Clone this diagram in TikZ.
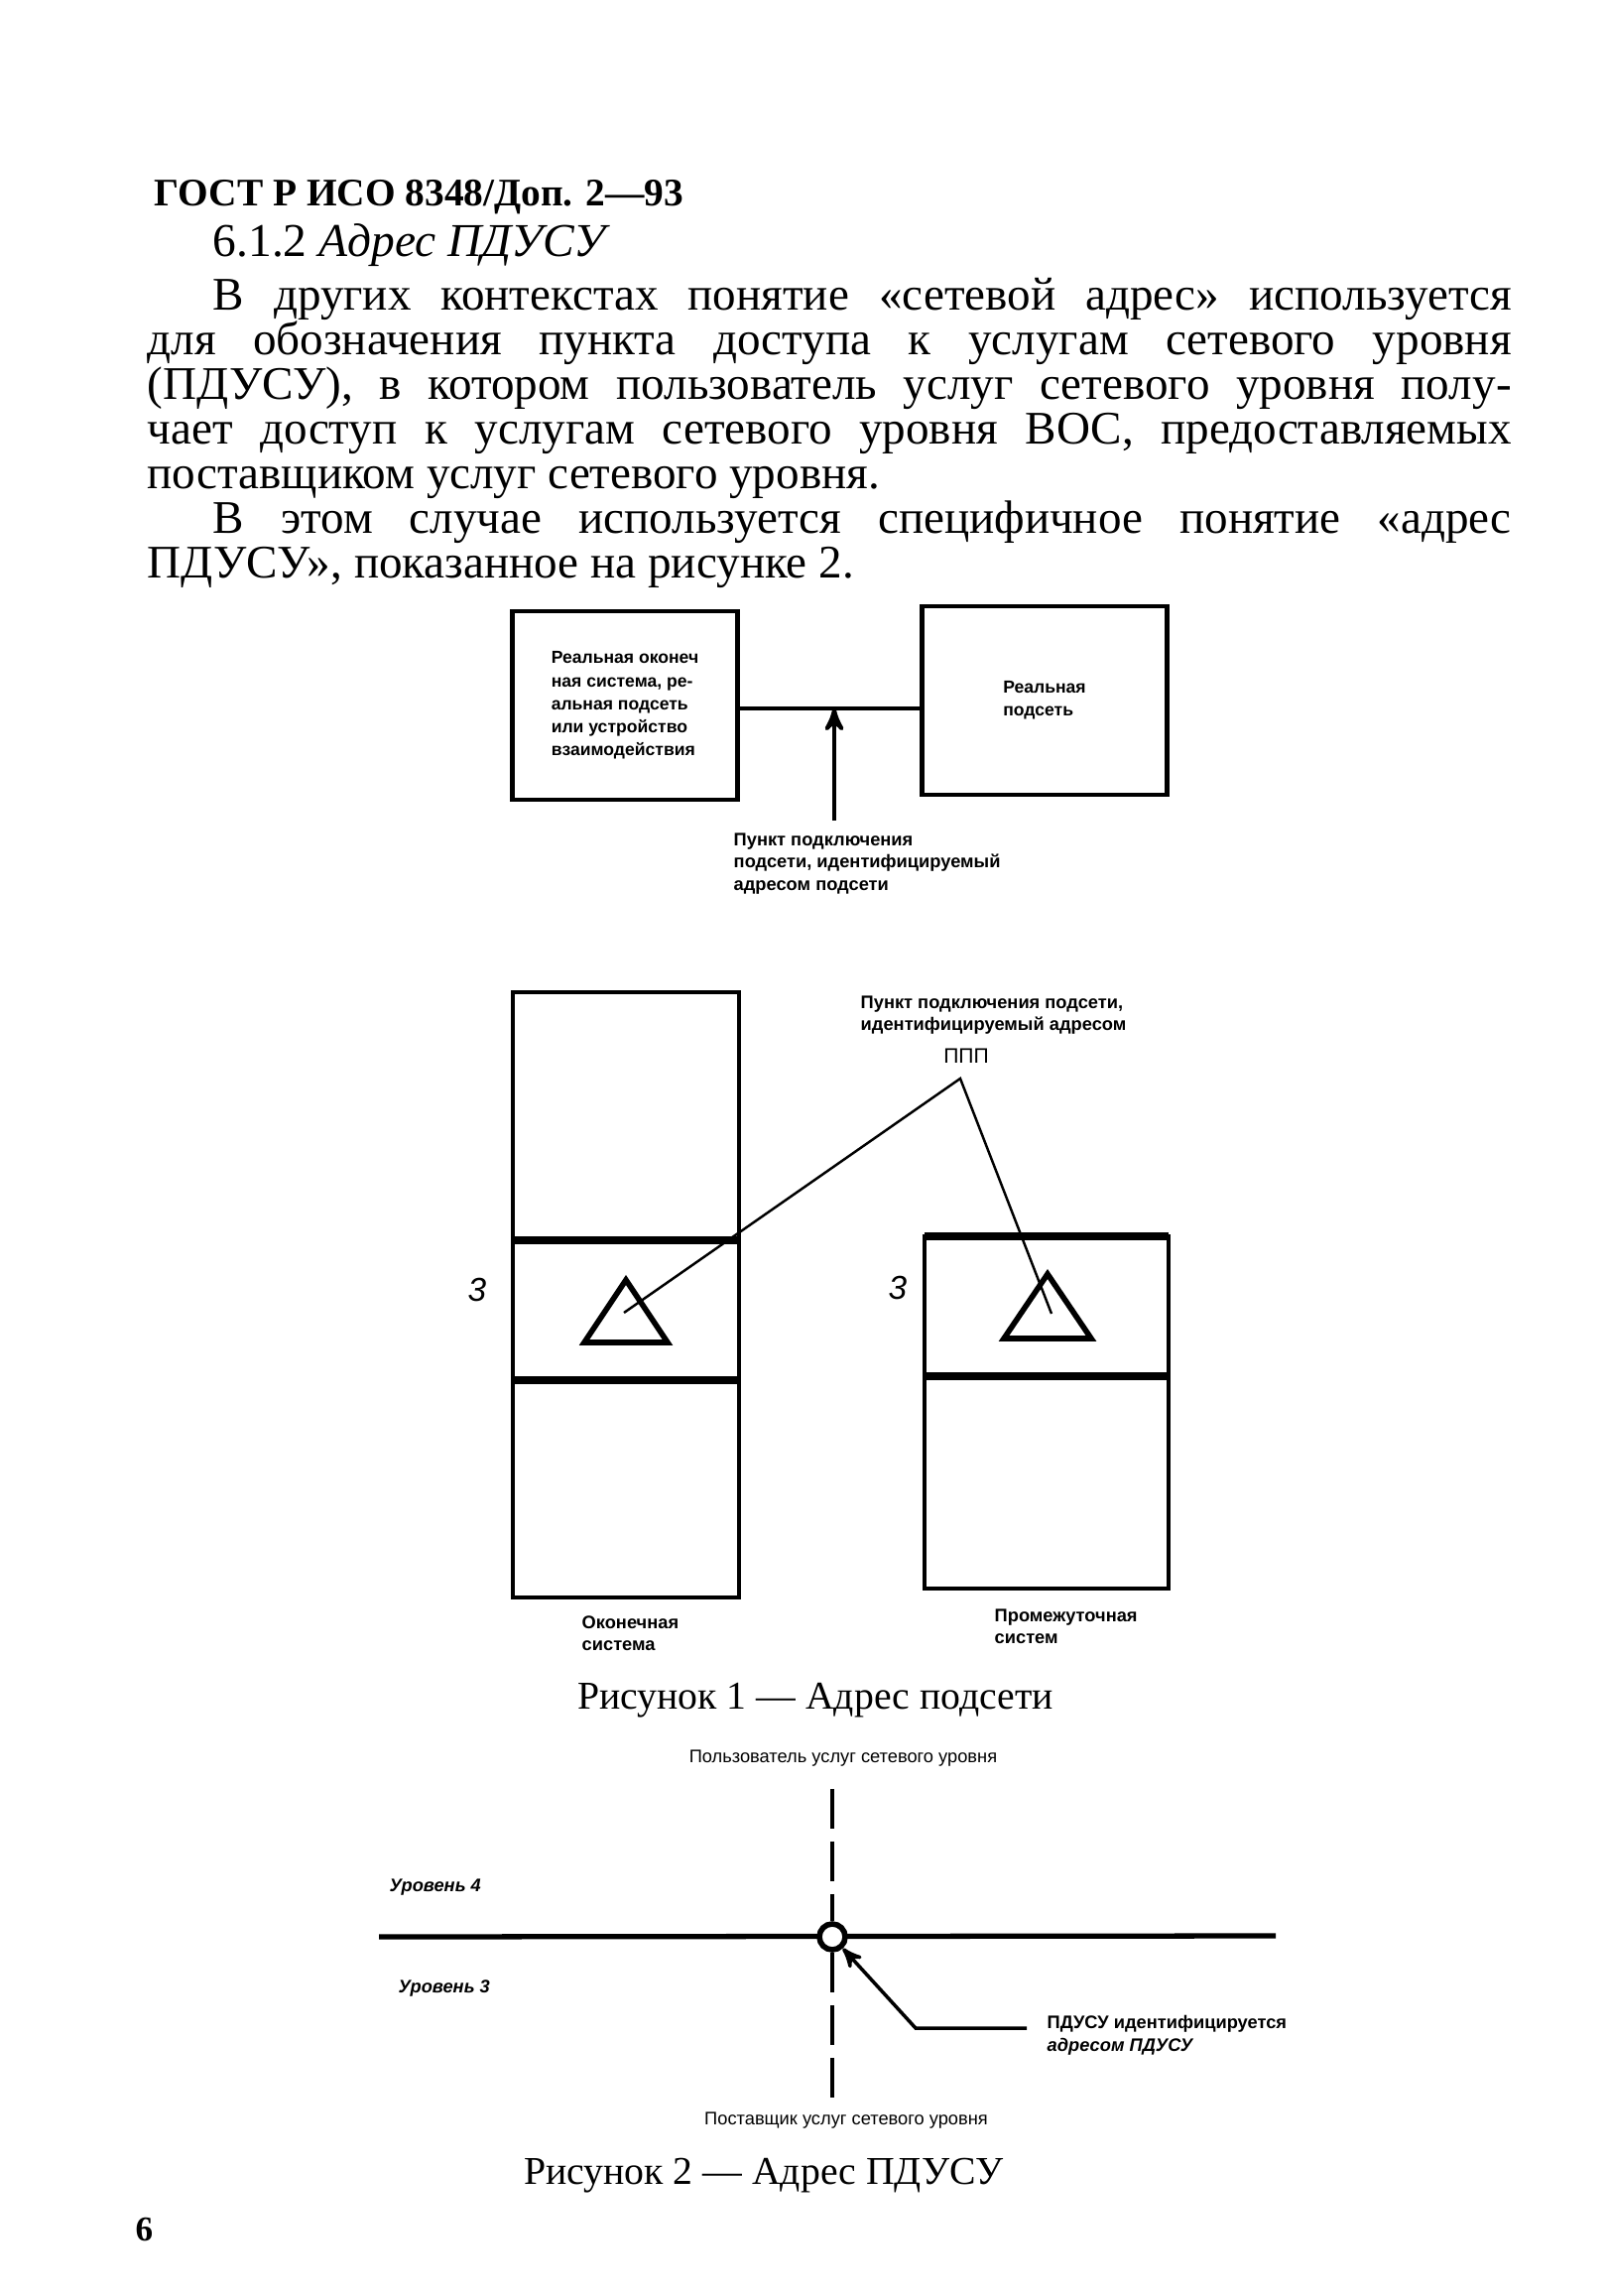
\documentclass[tikz,border=0pt]{standalone}
\usepackage{fontspec}
\setmainfont{Liberation Serif}
\setsansfont{Liberation Sans}
\usepackage{tikz}
\usetikzlibrary{arrows}

\begin{document}
\begin{tikzpicture}[x=0.1mm,y=-0.1mm,>=stealth']
    \tikzstyle{txt}=[inner sep=0pt, anchor=base west]
    \tikzstyle{lbl}=[inner sep=0pt, align=left, font=\sffamily\bfseries\fontsize{5.2}{6.4}\selectfont]
    \tikzstyle{plainlbl}=[inner sep=0pt, font=\sffamily\fontsize{5.2}{6.4}\selectfont]
    \tikzstyle{realbox}=[draw, line width=1.2pt, inner sep=0pt, minimum height=19mm, align=left, font=\sffamily\bfseries\fontsize{5}{6.6}\selectfont]
    \tikzstyle{col}=[line width=1.3pt]
    \tikzstyle{laysep}=[line width=2.4pt]
    \tikzstyle{tri}=[line width=1.6pt, line join=miter]
    \tikzstyle{svcline}=[line width=1.1pt, dash pattern=on 4mm off 1.3mm]
    \tikzstyle{caption}=[inner sep=0pt, font=\fontsize{11.3}{12}\selectfont]
    \tikzstyle{layernum}=[inner sep=0pt, font=\sffamily\itshape\fontsize{9.5}{9.5}\selectfont]

    \useasboundingbox (0,0) rectangle (1620,2314);

    % page text
    \node[txt, font=\bfseries\fontsize{11.2}{12}\selectfont] (hdr) at (155,208) {ГОСТ Р ИСО 8348/Доп. 2—93};
    \node[txt, font=\fontsize{13.5}{14}\selectfont] (sec) at (214,259) {6.1.2 \textit{Адрес ПДУСУ}};
    \node[inner sep=0pt, anchor=north west, align=left, font=\fontsize{13.4}{12.8}\selectfont] (para) at (148,280) {%
      \hspace*{6.6mm}\makebox[130.9mm][s]{В других контекстах понятие «сетевой адрес» используется}\\
      \makebox[137.5mm][s]{для обозначения пункта доступа к услугам сетевого уровня}\\
      \makebox[137.5mm][s]{(ПДУСУ), в котором пользователь услуг сетевого уровня полу-}\\
      \makebox[137.5mm][s]{чает доступ к услугам сетевого уровня ВОС, предоставляемых}\\
      поставщиком услуг сетевого уровня.\\
      \hspace*{6.6mm}\makebox[130.9mm][s]{В этом случае используется специфичное понятие «адрес}\\
      ПДУСУ», показанное на рисунке 2.};

    % figure 1, upper part
    \node[realbox, minimum width=22.7mm] (res) at (630,711) {Реальная оконеч\\ная система, ре-\\альная подсеть\\или устройство\\взаимодействия};
    \node[realbox, minimum width=24.7mm] (rsn) at (1053,706) {Реальная\\подсеть};
    \coordinate (tap) at (841,714);
    \node[lbl, anchor=north west] (sna) at (739,839) {Пункт подключения\\подсети, идентифицируемый\\адресом подсети};
    \draw[line width=1.2pt] (res.east |- tap) -- (rsn.west |- tap);
    \draw[->, line width=1.2pt, shorten <=1.2mm] (tap |- sna.north) -- (tap);

    % figure 1, lower part
    \draw[col] (517,1000) rectangle (745,1610);
    \draw[laysep] (517,1250) -- (745,1250) (517,1391) -- (745,1391);
    \draw[col] (932,1246) rectangle (1178,1601);
    \draw[laysep] (932,1246) -- (1178,1246) (932,1387) -- (1178,1387);
    \draw[tri] (631,1290) -- ++(42,63) -- ++(-84,0) -- cycle;
    \draw[tri] (1056,1284) -- ++(44,65) -- ++(-88,0) -- cycle;
    \coordinate (t3l) at (629,1323);
    \coordinate (t3r) at (1060,1324);
    \coordinate (peak) at (968,1087);
    \draw[line width=0.7pt] (t3l) -- (peak) -- (t3r);

    \node[lbl, anchor=north west] (pnt) at (867,1003) {Пункт подключения подсети,\\идентифицируемый адресом};
    \node[inner sep=0pt, font=\sffamily\fontsize{6}{6}\selectfont] (ppp) at (974,1064) {ППП};
    \node[layernum] (n3l) at (481,1300) {3};
    \node[layernum] (n3r) at (905,1298) {3};
    \node[lbl, anchor=north west] (esl) at (586,1628) {Оконечная\\система};
    \node[lbl, anchor=north west] (isl) at (1002,1621) {Промежуточная\\систем};
    \node[caption] (cap1) at (822,1714) {Рисунок 1 — Адрес подсети};

    % figure 2
    \node[plainlbl] (user) at (850,1772) {Пользователь услуг сетевого уровня};
    \node[plainlbl] (prov) at (853,2137) {Поставщик услуг сетевого уровня};
    \node[lbl, anchor=west, font=\sffamily\bfseries\itshape\fontsize{5.2}{6.4}\selectfont] (lv4) at (392,1902) {Уровень 4};
    \node[lbl, anchor=west, font=\sffamily\bfseries\itshape\fontsize{5.2}{6.4}\selectfont] (lv3) at (401,2004) {Уровень 3};
    \draw[line width=1.5pt] (382,1952) -- (1286,1951);
    \node[draw, circle, line width=1.6pt, fill=white, minimum size=2.6mm, inner sep=0pt] (sap) at (839,1952) {};
    \draw[svcline, shorten <=2.2mm] (user.south -| sap) -- (sap.north);
    \draw[svcline, shorten >=1.4mm] (sap.south) -- (prov.north -| sap);
    \node[lbl, anchor=north west] (pdl) at (1055,2031) {ПДУСУ идентифицируется\\\textit{адресом ПДУСУ}};
    \coordinate (bend) at (923,2044);
    \draw[->, line width=1pt, shorten <=2mm] (pdl.west |- bend) -- (bend) -- (sap);
    \node[caption] (cap2) at (770,2193) {Рисунок 2 — Адрес ПДУСУ};

    \node[txt, font=\bfseries\fontsize{10}{10}\selectfont] (pgno) at (136,2258) {6};
\end{tikzpicture}
\end{document}
